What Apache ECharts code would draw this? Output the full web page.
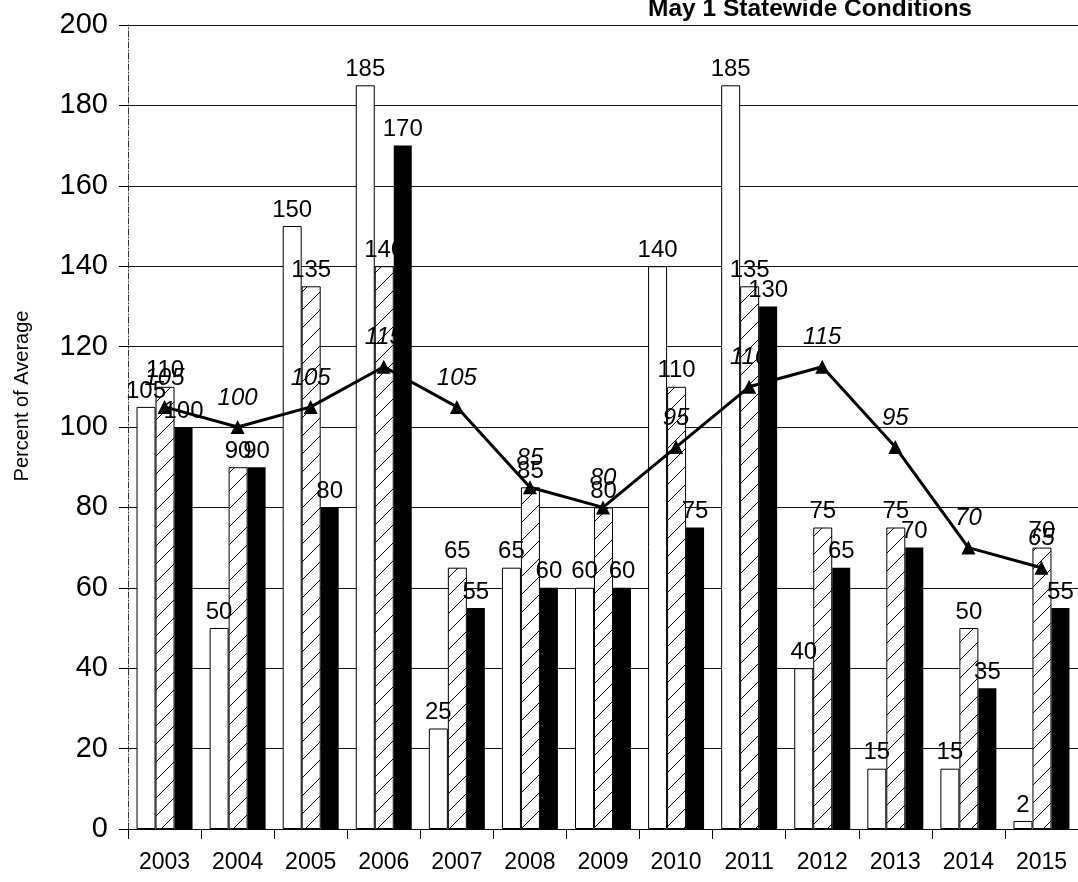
<!DOCTYPE html>
<html>
<head>
<meta charset="utf-8">
<script src="https://cdn.jsdelivr.net/npm/echarts@6/dist/echarts.min.js"></script>
<style>
  html, body { margin: 0; padding: 0; background: #fff; }
  #chart { width: 1078px; height: 882px; }
</style>
</head>
<body>
<div id="chart"></div>
<script>
// data
const years = ['2003', '2004', '2005', '2006', '2007', '2008', '2009', '2010', '2011', '2012', '2013', '2014', '2015']
const whiteBars = [105, 50, 150, 185, 25, 65, 60, 140, 185, 40, 15, 15, 2]
const hatchedBars = [110, 90, 135, 140, 65, 85, 80, 110, 135, 75, 75, 50, 70]
const blackBars = [100, 90, 80, 170, 55, 60, 60, 75, 130, 65, 70, 35, 55]
const lineValues = [105, 100, 105, 115, 105, 85, 80, 95, 110, 115, 95, 70, 65]

// diagonal hatch pattern
const hatch = document.createElement('canvas')
hatch.width = 18
hatch.height = 18
const ctx = hatch.getContext('2d')
ctx.fillStyle = '#fff'
ctx.fillRect(0, 0, 18, 18)
ctx.strokeStyle = '#000'
ctx.lineWidth = 1
ctx.beginPath()
ctx.moveTo(0, 18)
ctx.lineTo(18, 0)
ctx.moveTo(-4, 4)
ctx.lineTo(4, -4)
ctx.moveTo(14, 22)
ctx.lineTo(22, 14)
ctx.stroke()

const font = 'Liberation Sans'
const barLabel = { show: true, position: 'top', color: '#000', fontSize: 24, fontFamily: font, distance: 4 }

const chart = echarts.init(document.getElementById('chart'))
chart.setOption({
  animation: false,
  title: {
    text: 'May 1 Statewide Conditions',
    left: 643,
    top: -8,
    textStyle: { fontFamily: font, fontSize: 24.5, fontWeight: 'bold', color: '#000' }
  },
  graphic: [
    {
      type: 'text',
      x: 22,
      y: 396,
      rotation: Math.PI / 2,
      style: {
        text: 'Percent of Average',
        fill: '#000',
        font: '20px "Liberation Sans"',
        align: 'center',
        verticalAlign: 'middle'
      }
    }
  ],
  grid: { left: 128, right: -6, top: 25, bottom: 53 },
  xAxis: {
    type: 'category',
    data: years,
    axisLine: { lineStyle: { color: '#000', width: 1 } },
    axisTick: { show: true, length: 10, lineStyle: { color: '#000' } },
    axisLabel: { color: '#000', fontSize: 23, fontFamily: font, margin: 22 }
  },
  yAxis: {
    type: 'value',
    min: 0,
    max: 200,
    interval: 20,
    axisLine: { show: true, lineStyle: { color: '#333', type: [6, 2, 1, 2] } },
    axisTick: { show: true, length: 9, lineStyle: { color: '#000' } },
    axisLabel: { color: '#000', fontSize: 29, fontFamily: font, margin: 20 },
    splitLine: { lineStyle: { color: '#111', width: 1 } }
  },
  series: [
    {
      type: 'bar',
      data: whiteBars,
      barWidth: 19,
      barGap: '0%',
      itemStyle: { color: '#fff', borderColor: '#000', borderWidth: 1 },
      label: barLabel
    },
    {
      type: 'bar',
      data: hatchedBars,
      barWidth: 19,
      barGap: '0%',
      itemStyle: { color: { image: hatch, repeat: 'repeat' }, borderColor: '#000', borderWidth: 1 },
      label: barLabel
    },
    {
      type: 'bar',
      data: blackBars,
      barWidth: 18,
      barGap: '0%',
      itemStyle: { color: '#000' },
      label: barLabel
    },
    {
      type: 'line',
      data: lineValues,
      z: 5,
      symbol: 'triangle',
      symbolSize: 14,
      itemStyle: { color: '#000' },
      lineStyle: { color: '#000', width: 3 },
      label: {
        show: true,
        position: 'top',
        distance: 10,
        color: '#000',
        fontSize: 24,
        fontStyle: 'italic',
        fontFamily: font
      }
    }
  ]
})
</script>
</body>
</html>
